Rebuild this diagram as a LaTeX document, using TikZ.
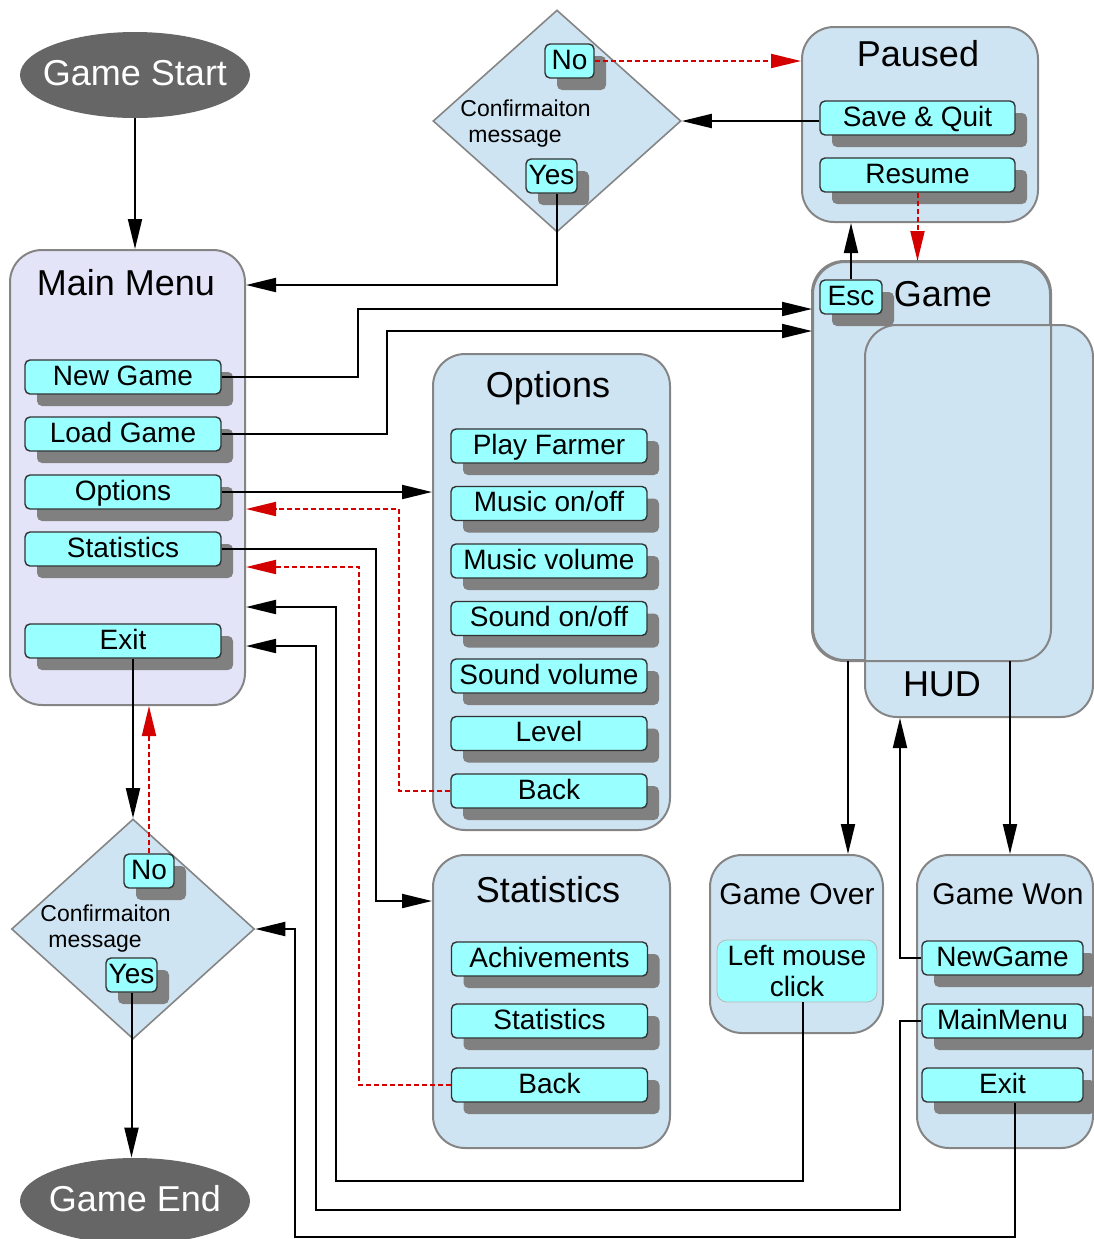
\documentclass[tikz,border=0pt]{standalone}
\usepackage{fontspec}
\setmainfont{Liberation Sans}
\usetikzlibrary{arrows.meta,positioning,shapes.geometric,shadows}

\definecolor{panelfill}{HTML}{CFE4F2}
\definecolor{menufill}{HTML}{E4E4F9}
\definecolor{btnfill}{HTML}{99FFFF}
\definecolor{shadowgray}{HTML}{808080}
\definecolor{panelline}{HTML}{858585}
\definecolor{termfill}{HTML}{666666}
\definecolor{backred}{HTML}{D40000}

\tikzset{
  panel/.style={rectangle, draw=panelline, line width=1pt, fill=panelfill, rounded corners=16pt, inner sep=0pt},
  btn/.style={rectangle, draw=black!80, line width=0.7pt, fill=btnfill, rounded corners=2.5pt,
    minimum width=98pt, minimum height=17pt, inner sep=0pt, text height=0.84em, text depth=0pt,
    font=\fontsize{14}{16}\selectfont,
    drop shadow={shadow xshift=6pt, shadow yshift=-6pt, fill=shadowgray, opacity=1}},
  ttl/.style={inner sep=0pt, text height=0.94em, text depth=0pt, font=\fontsize{18}{20}\selectfont},
  ttlsmall/.style={ttl, font=\fontsize{15}{17}\selectfont},
  term/.style={ellipse, fill=termfill, minimum width=115pt, minimum height=43pt, inner sep=0pt},
  termtxt/.style={text=white, inner sep=0pt, text height=1em, text depth=0pt, font=\fontsize{18}{20}\selectfont},
  decide/.style={diamond, draw=panelline, line width=0.8pt, fill=panelfill, inner sep=0pt},
  msg/.style={align=left, inner sep=0pt, font=\fontsize{11.5}{13}\selectfont},
  flow/.style={line width=1pt, -{Triangle[length=15pt,width=7pt]}},
  back/.style={flow, backred, dash pattern=on 2.5pt off 1.5pt},
}

\begin{document}
\begin{tikzpicture}[x=0.5pt, y=-0.5pt]
  \useasboundingbox (0,0) rectangle (1094,1239);

  % start and end
  \node[term, label={[termtxt]center:Game Start}] (start) at (135,75) {};
  \node[term, label={[termtxt]center:Game End}] (end) at (135,1201) {};

  % main menu
  \node[panel, fill=menufill, minimum width=117.5pt, minimum height=227.5pt] (mm) at (127.5,477.5) {};
  \node[ttl] (mmT) at (126,286) {Main Menu};
  \node[btn] (mmNew)  at (123,377) {New Game};
  \node[btn] (mmLoad) at (123,434) {Load Game};
  \node[btn] (mmOpt)  at (123,492) {Options};
  \node[btn] (mmStat) at (123,549) {Statistics};
  \node[btn] (mmExit) at (123,641) {Exit};

  % options
  \node[panel, minimum width=118.5pt, minimum height=238pt] (opt) at (551.5,592) {};
  \node[ttl] (optT) at (548,388) {Options};
  \node[btn] (optFarmer)   at (549,446)   {Play Farmer};
  \node[btn] (optMusic)    at (549,503.5) {Music on/off};
  \node[btn] (optMusicVol) at (549,561)   {Music volume};
  \node[btn] (optSound)    at (549,618.5) {Sound on/off};
  \node[btn] (optSoundVol) at (549,676)   {Sound volume};
  \node[btn] (optLevel)    at (549,733.5) {Level};
  \node[btn] (optBack)     at (549,791)   {Back};

  % statistics
  \node[panel, minimum width=118.5pt, minimum height=146.5pt] (stat) at (551.5,1001.5) {};
  \node[ttl] (statT) at (548,893) {Statistics};
  \node[btn] (statAch)  at (549.5,959)  {Achivements};
  \node[btn] (statStat) at (549.5,1021) {Statistics};
  \node[btn] (statBack) at (549.5,1085) {Back};

  % paused
  \node[panel, minimum width=118pt, minimum height=97.5pt] (paused) at (920,124.5) {};
  \node[ttl] (pausedT) at (918,57) {Paused};
  \node[btn, minimum width=97.5pt] (psSave)   at (917.5,118) {Save \& Quit};
  \node[btn, minimum width=97.5pt] (psResume) at (917.5,175) {Resume};

  % game and hud
  \node[panel, minimum width=118.5pt, minimum height=199pt] (game) at (931.5,461) {};
  \node[panel, minimum width=114pt, minimum height=196pt] (hud) at (979,521) {};
  \draw[draw=panelline, line width=1pt, rounded corners=16pt] (game.south west) rectangle (game.north east);
  \node[btn, minimum width=31pt] (esc) at (851,297) {Esc};
  \node[ttl] (gameT) at (943,297) {Game};
  \node[ttl] (hudT) at (942,687) {HUD};

  % game over
  \node[panel, minimum width=86.5pt, minimum height=89pt] (gover) at (796.5,944) {};
  \node[ttlsmall] (goverT) at (797,895) {Game Over};
  \node[rectangle, draw=panelline!60, fill=btnfill, rounded corners=5pt, minimum width=80pt,
    minimum height=31pt, inner sep=0pt, align=center, font=\fontsize{14}{15.5}\selectfont] (click) at (797,971) {Left mouse\\click};

  % game won
  \node[panel, minimum width=88pt, minimum height=146.5pt] (gwon) at (1005,1001.5) {};
  \node[ttlsmall] (gwonT) at (1008,895) {Game Won};
  \node[btn, minimum width=80.5pt] (gwNew)  at (1002.5,958)  {NewGame};
  \node[btn, minimum width=80.5pt] (gwMain) at (1002.5,1021) {MainMenu};
  \node[btn, minimum width=80.5pt] (gwExit) at (1002.5,1085) {Exit};

  % confirmation diamonds
  \node[decide, minimum width=124pt, minimum height=111pt] (cfTop) at (557,121) {};
  \node[msg, anchor=west] (cfTopT) at (460,124) {Confirmaiton\\\hspace*{4pt}message};
  \node[btn, minimum width=24.5pt] (cnoT)  at (569.5,61) {No};
  \node[btn, minimum width=25.5pt] (cyesT) at (551.5,176) {Yes};

  \node[decide, minimum width=121.5pt, minimum height=110pt] (cfBot) at (133,929) {};
  \node[msg, anchor=west] (cfBotT) at (40,929) {Confirmaiton\\\hspace*{4pt}message};
  \node[btn, minimum width=25pt]   (cnoB)  at (149,871) {No};
  \node[btn, minimum width=25.5pt] (cyesB) at (131.5,975) {Yes};

  % connectors
  \draw[flow] (start.south) -- (start.south |- mm.north);
  \draw[flow] (cyesT.south -| cfTop.south) |- (mm.east |- 0,285);
  \draw[flow] (cfTop.east -| psSave.west) -- (cfTop.east);
  \draw[back] (cnoT.east) -- (cnoT.east -| paused.west);
  \draw[back] (psResume.south) -- (psResume.south |- game.north);
  \draw[flow] (esc.north) -- (esc.north |- paused.south);
  \draw[flow] (mmNew.east) -| (358,309) -- (game.west |- 0,309);
  \draw[flow] (mmLoad.east) -| (387,331) -- (game.west |- 0,331);
  \draw[flow] (mmOpt.east) -- (mmOpt.east -| opt.west);
  \draw[back] (optBack.west) -| (399,509) -- (mm.east |- 0,509);
  \draw[flow] (mmStat.east) -| (376,901) -- (stat.west |- 0,901);
  \draw[back] (statBack.west) -| (359,567) -- (mm.east |- 0,567);
  \draw[flow] ([xshift=3pt]click.south) |- (336,1181) |- (mm.east |- 0,607);
  \draw[flow] (gwMain.west) -| (900,1210) -| (316,646) -- (mm.east |- 0,646);
  \draw[flow] ([xshift=6pt]gwExit.south) |- (295,1237) |- (cfBot.east);
  \draw[flow] (gwNew.west) -| (hud.south -| 900,0);
  \draw[flow] (game.south -| 848,0) -- (gover.north -| 848,0);
  \draw[flow] (game.south -| 1010,0) -- (gwon.north -| 1010,0);
  \draw[flow] (cfBot.north |- mmExit.south) -- (cfBot.north);
  \draw[back] (cnoB.north) -- (cnoB.north |- mm.south);
  \draw[flow] (cyesB.south) -- (cyesB.south |- end.north);
\end{tikzpicture}
\end{document}
